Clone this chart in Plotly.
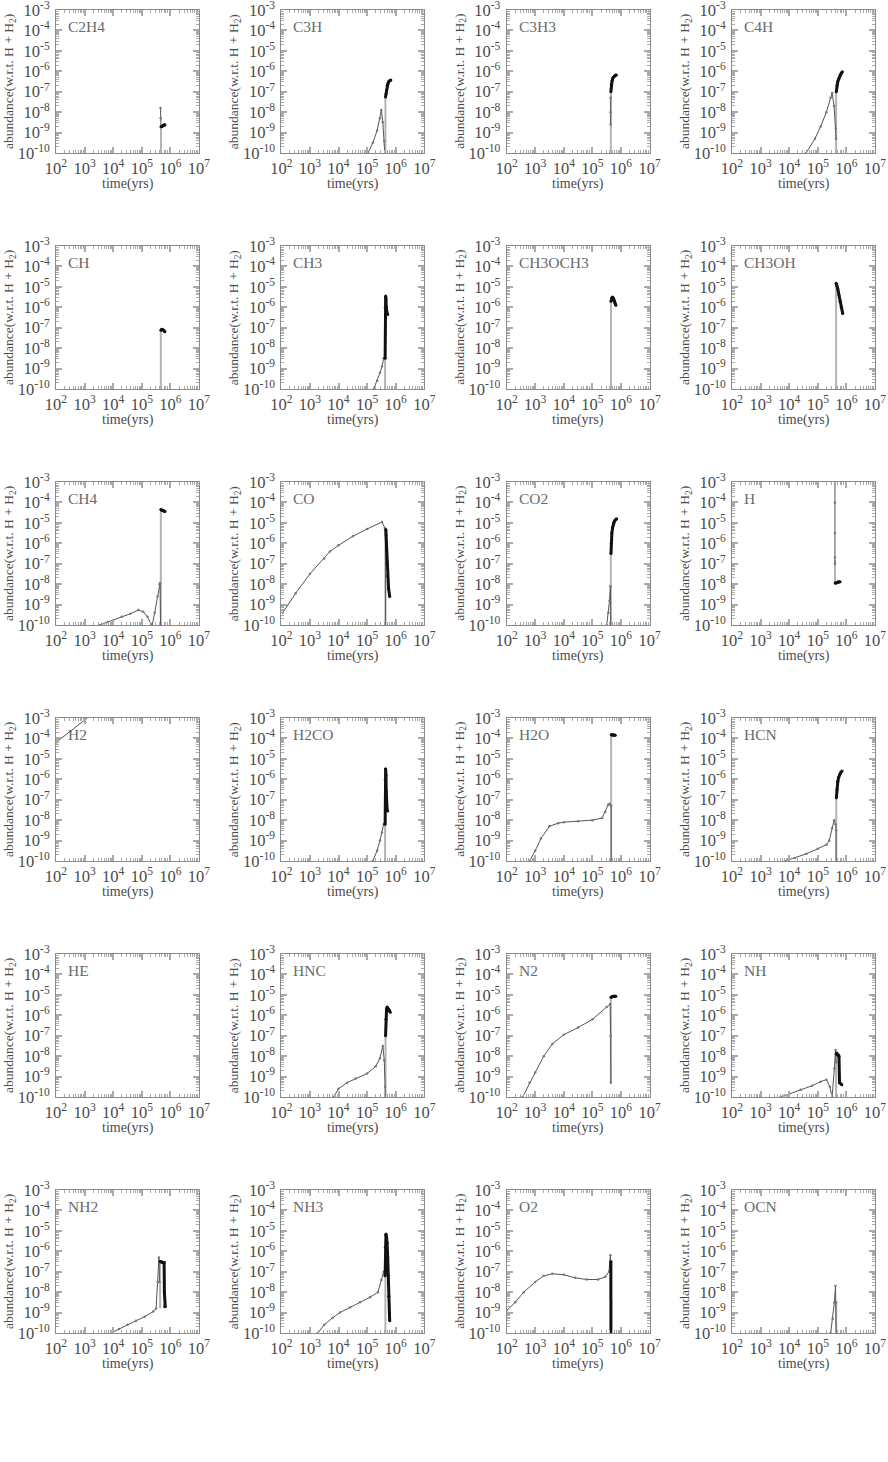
import plotly.graph_objects as go

# specie, nello stesso ordine della griglia (6 righe x 4 colonne)
species = ["C2H4", "C3H", "C3H3", "C4H",
           "CH", "CH3", "CH3OCH3", "CH3OH",
           "CH4", "CO", "CO2", "H",
           "H2", "H2CO", "H2O", "HCN",
           "HE", "HNC", "N2", "NH",
           "NH2", "NH3", "O2", "OCN"]

# valori, in log10(anni) e log10(abbondanza)
# fase iniziale (linea grigio scuro)
early_logt = [
    [5.655, 5.66, 5.67],
    [5.03, 5.2, 5.35, 5.45, 5.50, 5.55, 5.60, 5.64],
    [5.64, 5.64, 5.64],
    [4.59, 4.9, 5.1, 5.3, 5.45, 5.50, 5.57, 5.63, 5.64],
    [],
    [5.23, 5.35, 5.45, 5.52, 5.58, 5.62],
    [],
    [],
    [3.54, 3.8, 4.0, 4.3, 4.6, 4.88, 5.05, 5.2, 5.32, 5.36, 5.45, 5.55, 5.62, 5.64, 5.66],
    [2.05, 2.5, 3.0, 3.5, 3.7, 4.0, 4.5, 5.0, 5.52, 5.62, 5.64, 5.64],
    [5.50, 5.56, 5.60, 5.63, 5.645],
    [5.60, 5.60, 5.60, 5.60, 5.60],
    [2.0, 2.5, 3.0, 3.5, 4.0],
    [5.2, 5.35, 5.45, 5.52, 5.58, 5.62],
    [2.8, 3.0, 3.2, 3.5, 3.8, 4.0, 4.5, 5.0, 5.34, 5.45, 5.55, 5.6, 5.64, 5.655, 5.655],
    [3.85, 4.2, 4.6, 5.0, 5.3, 5.4, 5.5, 5.57, 5.62, 5.64, 5.64],
    [2.0, 3.0, 4.0, 5.0, 5.6],
    [3.83, 4.0, 4.3, 4.6, 5.0, 5.3, 5.45, 5.55, 5.6, 5.63, 5.64],
    [2.56, 2.8, 3.0, 3.3, 3.6, 4.0, 4.5, 5.0, 5.5, 5.62, 5.64, 5.645],
    [3.7, 4.0, 4.4, 4.8, 5.1, 5.3, 5.42, 5.5, 5.58, 5.62, 5.64],
    [3.92, 4.2, 4.5, 4.8, 5.1, 5.4, 5.5, 5.56, 5.6, 5.62],
    [3.28, 3.5, 3.8, 4.05, 4.4, 4.75, 5.1, 5.38, 5.5, 5.58, 5.62],
    [2.0, 2.3, 2.6, 3.0, 3.3, 3.6, 4.0, 4.4, 4.8, 5.2, 5.45, 5.58, 5.63, 5.645, 5.65],
    [5.45, 5.52, 5.58, 5.62, 5.64, 5.645],
]
early_logy = [
    [-7.8, -8.3, -8.72],
    [-10, -9.5, -8.9, -8.3, -7.9, -8.5, -9.4, -10.5],
    [-8.6, -8.0, -7.3],
    [-10, -9.3, -8.7, -8.0, -7.3, -7.06, -7.7, -8.8, -9.3],
    [],
    [-10, -9.6, -9.2, -8.9, -8.5, -8.5],
    [],
    [],
    [-10, -9.85, -9.75, -9.6, -9.45, -9.27, -9.35, -9.6, -9.95, -10.05, -9.4, -8.6, -8.0, -7.94, -10.5],
    [-9.4, -8.45, -7.5, -6.75, -6.4, -6.1, -5.66, -5.3, -4.96, -5.25, -5.3, -10.5],
    [-10, -9.4, -8.8, -8.1, -10.5],
    [-2.5, -4.0, -5.5, -6.7, -7.0],
    [-4.2, -3.65, -3.1, -2.5, -2.0],
    [-10, -9.5, -9.0, -8.6, -8.2, -8.15],
    [-10, -9.5, -8.9, -8.3, -8.15, -8.1, -8.05, -8.0, -7.9, -7.6, -7.25, -7.2, -7.3, -7.3, -10.5],
    [-10, -9.85, -9.65, -9.4, -9.2, -9.0, -8.4, -8.0, -8.2, -8.5, -10.5],
    [-1.0, -1.0, -1.0, -1.0, -1.0],
    [-10, -9.6, -9.3, -9.1, -8.85, -8.5, -8.1, -7.5, -8.2, -9.5, -10.5],
    [-10, -9.3, -8.8, -8.0, -7.4, -6.95, -6.6, -6.2, -5.6, -5.45, -7.0, -9.3],
    [-10, -9.85, -9.65, -9.45, -9.25, -9.15, -9.5, -10.0, -8.6, -7.7, -8.3],
    [-10, -9.8, -9.6, -9.4, -9.2, -8.95, -8.8, -7.5, -6.3, -7.5],
    [-10, -9.6, -9.25, -9.0, -8.75, -8.5, -8.25, -8.0, -7.4, -7.0, -7.2],
    [-8.9, -8.5, -8.0, -7.5, -7.2, -7.1, -7.15, -7.3, -7.38, -7.38, -7.25, -7.0, -6.2, -7.0, -10.5],
    [-10, -9.3, -8.5, -7.7, -8.5, -10.5],
]

# salto verticale (linea grigio chiaro)
jump_logt = [
    [5.67, 5.67], [5.64, 5.64], [5.645, 5.645], [5.64, 5.64],
    [5.665, 5.665], [5.63, 5.63], [5.65, 5.65], [5.64, 5.64],
    [5.665, 5.665], [5.645, 5.645], [5.645, 5.645], [5.60, 5.60],
    [], [5.63, 5.63], [5.655, 5.655], [5.645, 5.645],
    [], [5.645, 5.645], [5.645, 5.645], [5.64, 5.64],
    [5.64, 5.64], [5.64, 5.64], [5.645, 5.645], [5.645, 5.645],
]
jump_logy = [
    [-10.5, -8.72], [-10.5, -7.26], [-10.5, -7.0], [-10.5, -7.0],
    [-10.5, -7.12], [-10.5, -5.5], [-10.5, -5.7], [-10.5, -4.82],
    [-10.5, -4.4], [-10.5, -5.3], [-10.5, -6.5], [-6.8, -8.0],
    [], [-10.5, -5.5], [-10.5, -3.85], [-10.5, -6.9],
    [], [-10.5, -7.0], [-9.3, -5.1], [-10.5, -7.9],
    [-8.8, -6.5], [-10.5, -5.5], [-10.5, -6.5], [-10.5, -8.5],
]

# fase finale (nera, punti fitti)
late_logt = [
    [5.67, 5.70, 5.74, 5.78, 5.81],
    [5.645, 5.66, 5.68, 5.70, 5.73, 5.76, 5.80, 5.83],
    [5.645, 5.66, 5.69, 5.72, 5.76, 5.80, 5.84],
    [5.645, 5.67, 5.70, 5.74, 5.78, 5.82, 5.86],
    [5.665, 5.70, 5.74, 5.78, 5.81],
    [5.63, 5.635, 5.64, 5.65, 5.66, 5.67, 5.68, 5.70, 5.72],
    [5.65, 5.67, 5.70, 5.73, 5.76, 5.79, 5.82],
    [5.64, 5.67, 5.70, 5.74, 5.78, 5.82, 5.87],
    [5.665, 5.69, 5.72, 5.75, 5.78, 5.81],
    [5.655, 5.665, 5.68, 5.70, 5.72, 5.75, 5.79],
    [5.65, 5.66, 5.68, 5.71, 5.74, 5.78, 5.82, 5.85],
    [5.605, 5.63, 5.66, 5.70, 5.74, 5.78],
    [],
    [5.63, 5.635, 5.64, 5.65, 5.66, 5.67, 5.68, 5.70, 5.72],
    [5.655, 5.68, 5.71, 5.74, 5.77, 5.80],
    [5.65, 5.67, 5.70, 5.73, 5.77, 5.81, 5.85],
    [],
    [5.645, 5.66, 5.68, 5.70, 5.72, 5.75, 5.78, 5.81],
    [5.645, 5.67, 5.70, 5.74, 5.78, 5.82],
    [5.64, 5.66, 5.68, 5.70, 5.72, 5.74, 5.76, 5.84],
    [5.64, 5.66, 5.69, 5.72, 5.75, 5.78, 5.79, 5.80, 5.82],
    [5.63, 5.64, 5.65, 5.66, 5.68, 5.70, 5.72, 5.74, 5.76, 5.78, 5.79],
    [5.645, 5.65],
    [],
]
late_logy = [
    [-8.72, -8.70, -8.65, -8.62, -8.62],
    [-7.26, -7.1, -6.9, -6.7, -6.6, -6.5, -6.45, -6.43],
    [-7.0, -6.65, -6.45, -6.32, -6.25, -6.2, -6.18],
    [-7.0, -6.7, -6.5, -6.35, -6.2, -6.1, -6.02],
    [-7.12, -7.08, -7.1, -7.15, -7.2],
    [-8.5, -6.0, -5.5, -5.45, -5.6, -6.0, -6.2, -6.3, -6.35],
    [-5.7, -5.55, -5.5, -5.55, -5.65, -5.8, -5.9],
    [-4.82, -4.95, -5.1, -5.4, -5.7, -6.0, -6.3],
    [-4.35, -4.37, -4.38, -4.4, -4.42, -4.45],
    [-5.33, -5.6, -6.3, -7.0, -7.6, -8.2, -8.6],
    [-6.5, -6.0, -5.5, -5.2, -5.0, -4.9, -4.83, -4.8],
    [-7.95, -7.95, -7.93, -7.9, -7.9, -7.88],
    [],
    [-8.2, -6.0, -5.5, -5.5, -5.8, -6.6, -7.3, -7.5, -7.55],
    [-3.82, -3.82, -3.83, -3.83, -3.83, -3.84],
    [-6.9, -6.5, -6.1, -5.9, -5.75, -5.65, -5.6],
    [],
    [-7.0, -6.2, -5.7, -5.6, -5.65, -5.7, -5.75, -5.85],
    [-5.12, -5.1, -5.08, -5.07, -5.07, -5.07],
    [-7.9, -7.85, -7.9, -7.95, -7.95, -8.0, -9.3, -9.4],
    [-6.5, -6.5, -6.52, -6.55, -6.55, -6.55, -8.0, -8.7, -8.72],
    [-7.2, -5.8, -5.2, -5.15, -5.3, -5.6, -6.3, -7.2, -8.2, -9.0, -9.4],
    [-6.5, -10.5],
    [],
]

# etichette degli assi
x_tickvals = [1e2, 1e3, 1e4, 1e5, 1e6, 1e7]
x_ticktext = ["10<sup>2</sup>", "10<sup>3</sup>", "10<sup>4</sup>",
              "10<sup>5</sup>", "10<sup>6</sup>", "10<sup>7</sup>"]
y_tickvals = [1e-10, 1e-9, 1e-8, 1e-7, 1e-6, 1e-5, 1e-4, 1e-3]
y_ticktext = ["10<sup>-10</sup>", "10<sup>-9</sup>", "10<sup>-8</sup>", "10<sup>-7</sup>",
              "10<sup>-6</sup>", "10<sup>-5</sup>", "10<sup>-4</sup>", "10<sup>-3</sup>"]

W, H = 888, 1462
col_left = [56, 281.3, 506.6, 732]
row_top = [10, 246, 482, 718, 954, 1190]
box = 143

FONT = "Liberation Serif"
TXT = "#4a4a4a"
AX = "#8a8a8a"
TK = "#aaaaaa"

minor_x = [m * 10 ** e for e in range(2, 7) for m in range(2, 10)]
minor_y = [m * 10.0 ** e for e in range(-10, -3) for m in range(2, 10)]

fig = go.Figure()
layout = {}
annotations = []

for i, sp in enumerate(species):
    r, c = divmod(i, 4)
    n = i + 1
    xs = "" if n == 1 else str(n)
    x0 = col_left[c] / W
    x1 = (col_left[c] + box) / W
    y1 = 1 - row_top[r] / H
    y0 = 1 - (row_top[r] + box) / H

    common = dict(type="log", showline=True, linecolor=AX, linewidth=1, mirror="allticks",
                  ticks="inside", ticklen=6, tickcolor=TK, tickwidth=1.5, showgrid=False,
                  zeroline=False, tickmode="array", automargin=False, ticklabeloverflow="allow",
                  tickfont=dict(family=FONT, size=16.5, color=TXT))
    layout["xaxis" + xs] = dict(common, domain=[x0, x1], anchor="y" + xs, range=[2, 7],
                                tickvals=x_tickvals, ticktext=x_ticktext,
                                minor=dict(tickmode="array", tickvals=minor_x, ticks="inside",
                                           ticklen=3, tickcolor=TK, tickwidth=1, showgrid=False))
    layout["yaxis" + xs] = dict(common, domain=[y0, y1], anchor="x" + xs, range=[-10, -3],
                                tickvals=y_tickvals, ticktext=y_ticktext, ticklabelstandoff=2,
                                minor=dict(tickmode="array", tickvals=minor_y, ticks="inside",
                                           ticklen=3, tickcolor=TK, tickwidth=1, showgrid=False))

    if jump_logt[i]:
        fig.add_trace(go.Scatter(x=[10 ** v for v in jump_logt[i]], y=[10 ** v for v in jump_logy[i]],
                                 mode="lines", line=dict(color="#b4b4b4", width=2),
                                 xaxis="x" + xs, yaxis="y" + xs, showlegend=False))
    if early_logt[i]:
        fig.add_trace(go.Scatter(x=[10 ** v for v in early_logt[i]], y=[10 ** v for v in early_logy[i]],
                                 mode="lines+markers", line=dict(color="#555555", width=1),
                                 marker=dict(size=2.5, color="#777777"),
                                 xaxis="x" + xs, yaxis="y" + xs, showlegend=False))
    if late_logt[i]:
        fig.add_trace(go.Scatter(x=[10 ** v for v in late_logt[i]], y=[10 ** v for v in late_logy[i]],
                                 mode="lines+markers", line=dict(color="#111111", width=3),
                                 marker=dict(size=3, color="#111111"),
                                 xaxis="x" + xs, yaxis="y" + xs, showlegend=False))

    annotations.append(dict(text=sp, xref="x" + xs + " domain", yref="y" + xs + " domain",
                            x=0.07, y=0.885, xanchor="left", yanchor="middle", showarrow=False,
                            font=dict(family=FONT, size=15.5, color="#6a6a6a")))
    annotations.append(dict(text="time(yrs)", xref="x" + xs + " domain", yref="y" + xs + " domain",
                            x=0.5, y=-0.215, xanchor="center", yanchor="middle", showarrow=False,
                            font=dict(family=FONT, size=14, color=TXT)))
    annotations.append(dict(text="abundance(w.r.t. H + H<sub>2</sub>)",
                            xref="x" + xs + " domain", yref="y" + xs + " domain",
                            x=-0.325, y=0.5, xanchor="center", yanchor="middle", textangle=-90,
                            showarrow=False, font=dict(family=FONT, size=13.5, color=TXT)))

fig.update_layout(width=W, height=H, margin=dict(l=0, r=0, t=0, b=0),
                  paper_bgcolor="white", plot_bgcolor="white",
                  annotations=annotations, **layout)

# niente margine del body, la figura parte da (0, 0)
fig.write_html("out.html", config={"displayModeBar": False},
               post_script="document.body.style.margin='0px';")
